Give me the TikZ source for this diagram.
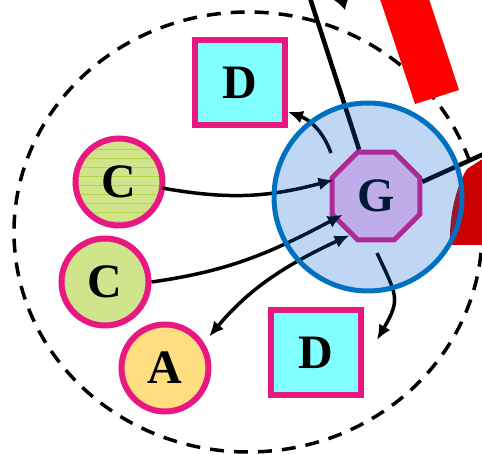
\documentclass[tikz,border=0pt]{standalone}
\usepackage{fontspec}
\setmainfont{Liberation Serif}
\usetikzlibrary{arrows.meta,shapes.geometric,patterns.meta}

\definecolor{rim}{RGB}{232,24,128}
\definecolor{boxfill}{RGB}{128,255,255}
\definecolor{cfill}{RGB}{208,228,140}
\definecolor{cline}{RGB}{178,214,72}
\definecolor{afill}{RGB}{255,222,128}
\definecolor{gfill}{RGB}{255,200,240}
\definecolor{cellrim}{RGB}{0,112,192}
\definecolor{cellfill}{RGB}{0,95,215}
\definecolor{darkred}{RGB}{204,0,0}

\begin{document}
\begin{tikzpicture}[x=1pt, y=1pt,
					>={Latex[length=15pt, width=13pt]},
					letter/.style = {font=\bfseries\fontsize{48}{48}\selectfont, inner sep=0pt},
					d_box/.style = {letter, draw=rim, line width=6pt, fill=boxfill, minimum width=90pt, minimum height=85pt},
					ball/.style = {letter, circle, draw=rim, line width=6pt, minimum size=87pt},
					link/.style = {line width=3.5pt},
					boundary/.style = {line width=3.5pt, dash pattern=on 14pt off 10pt},
					bar/.style = {line width=4.5pt}
				]

				\clip (0,0) rectangle (482,455);

				% outer boundary and the red bars
				\draw[boundary] (248,223) ellipse [x radius=234pt, y radius=220pt];
				\fill[red] (380,456) -- (429,456) -- (459,365) -- (415,351) -- cycle;
				\fill[darkred] (450,210) .. controls (449,240) and (456,268) .. (467,286)
				-- (484,297) -- (484,210) -- cycle;

				\node[d_box] (d_top) at (240,372) {D};
				\node[d_box] (d_bot) at (316,102) {D};
				\node[ball, preaction={fill=cfill}, pattern={Lines[angle=0, distance=9pt, line width=0.7pt]},
					pattern color=cline] (c_top) at (119,273) {C};
				\node[ball, fill=cfill] (c_mid) at (105,173) {C};
				\node[ball, fill=afill] (a) at (165,87) {A};
				\node[letter, regular polygon, regular polygon sides=8, draw=rim, line width=5pt,
					fill=gfill, minimum size=95pt] (g) at (376,259) {G};

				\coordinate (top_in) at (309,460);
				\coordinate (right_out) at (486,302);
				\coordinate (arr_src) at (332,495);
				\coordinate (arr_tip) at (345,445);
				\coordinate (d_src) at (331,302);
				\coordinate (d_bot_src) at (377,202);
				\coordinate (d_bot_tip) at (377,115);

				\draw[link, ->, shorten >=-4pt] (c_top.-8) to[out=-10, in=195] (g.162);
				\draw[link, ->, shorten >=-10pt] (c_mid.east) to[out=8, in=208] (g.209);
				\draw[link, <->, shorten <=8pt] (a.33) to[out=50, in=205] (g.236);
				\draw[link, ->] (d_src) to[out=110, in=-20] (d_top.-31);
				\draw[link, ->] (d_bot_src) to[out=-65, in=60, looseness=1.4] (d_bot_tip);
				\draw[bar] (top_in) -- (g.110);
				\draw[bar] (g.17) -- (right_out);
				\draw[link, -{Latex[length=14pt, width=20pt]}] (arr_src) -- (arr_tip);

				% the cell, laid over what lies inside it
				\node[circle, draw=cellrim, line width=5pt, fill=cellfill, fill opacity=0.25,
					minimum size=188pt, inner sep=0pt] (cell) at (368,258) {};
			\end{tikzpicture}
\end{document}
